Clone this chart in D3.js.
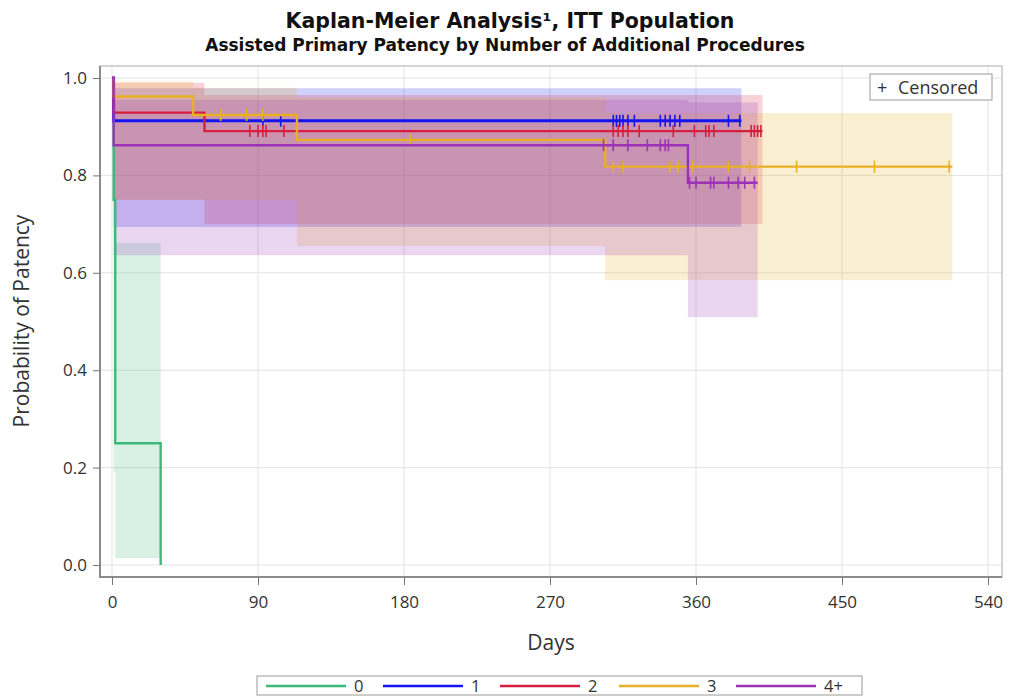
<!DOCTYPE html>
<html>
<head>
<meta charset="utf-8">
<script src="https://cdn.jsdelivr.net/npm/d3@7"></script>
<style>
  body { margin: 0; background: #fff; }
  svg text { font-family: "Open Sans", "Noto Sans", sans-serif; fill: #333; }
  .tick line { stroke: #777; }
</style>
</head>
<body>
<div id="chart"></div>
<script>
var svgWidth = 1009;
var svgHeight = 696;

// frame of the plot area
var frame = { left: 100, right: 1002, top: 66, bottom: 577 };

// data
var groups = ["0", "1", "2", "3", "4+"];
var colors = ["#3dba7a", "#1414f0", "#d61f3c", "#e8b025", "#9c32b8"];

// step times (days) and survival after each step
var stepTimes = [
  [0, 1, 2, 30],
  [0, 1],
  [0, 1, 57],
  [0, 1, 50, 114, 304],
  [0, 1, 355]
];
var survival = [
  [1, 0.75, 0.25, 0],
  [1, 0.912],
  [1, 0.929, 0.891],
  [1, 0.962, 0.924, 0.873, 0.818],
  [1, 0.862, 0.785]
];
var endTimes = [30, 388, 401, 518, 398];

// confidence limits for each step (null = no band)
var lowerCL = [
  [null, 0.19, 0.014, null],
  [null, 0.694],
  [null, 0.75, 0.70],
  [null, 0.75, 0.75, 0.655, 0.585],
  [null, 0.636, 0.509]
];
var upperCL = [
  [null, 0.96, 0.661, null],
  [null, 0.979],
  [null, 0.99, 0.965],
  [null, 0.993, 0.98, 0.96, 0.928],
  [null, 0.955, 0.95]
];

// censored times
var censored = [
  [],
  [93, 104, 309, 311, 313, 315, 318, 322, 338, 341, 344, 347, 350, 380, 387],
  [85, 90, 93, 95, 106, 309, 312, 315, 318, 325, 346, 359, 366, 368, 371, 394, 396, 398, 400],
  [67, 83, 93, 184, 309, 315, 344, 349, 358, 380, 393, 422, 470, 516],
  [303, 309, 318, 330, 338, 341, 343, 356, 360, 369, 371, 380, 386, 390, 396]
];

var xTicks = [0, 90, 180, 270, 360, 450, 540];
var yTicks = [0, 0.2, 0.4, 0.6, 0.8, 1.0];

var svg = d3.select("#chart")
  .append("svg")
  .attr("width", svgWidth)
  .attr("height", svgHeight);

var x = d3.scaleLinear().domain([0, 540]).range([112, 988]);
var y = d3.scaleLinear().domain([0, 1]).range([565, 78]);

// titles
svg.append("text")
  .attr("x", 510).attr("y", 28)
  .attr("text-anchor", "middle")
  .style("font-family", "'DejaVu Sans', sans-serif")
  .style("font-size", "20.5px").style("font-weight", "bold").style("fill", "#111")
  .text("Kaplan-Meier Analysis¹, ITT Population");
svg.append("text")
  .attr("x", 505).attr("y", 51)
  .attr("text-anchor", "middle")
  .style("font-family", "'DejaVu Sans', sans-serif")
  .style("font-size", "17px").style("font-weight", "bold").style("fill", "#111")
  .text("Assisted Primary Patency by Number of Additional Procedures");

// gridlines
svg.append("g").selectAll("line")
  .data(xTicks).enter().append("line")
  .attr("x1", d => x(d)).attr("x2", d => x(d))
  .attr("y1", frame.top).attr("y2", frame.bottom)
  .attr("stroke", "#e3e3e3");
svg.append("g").selectAll("line")
  .data(yTicks).enter().append("line")
  .attr("x1", frame.left).attr("x2", frame.right)
  .attr("y1", d => y(d)).attr("y2", d => y(d))
  .attr("stroke", "#e3e3e3");

// confidence bands
var bands = svg.append("g");
groups.forEach(function(g, i) {
  var t = stepTimes[i];
  t.forEach(function(t0, j) {
    if (lowerCL[i][j] === null) return;
    var t1 = j + 1 < t.length ? t[j + 1] : endTimes[i];
    bands.append("rect")
      .attr("x", x(t0))
      .attr("width", x(t1) - x(t0))
      .attr("y", y(upperCL[i][j]))
      .attr("height", y(lowerCL[i][j]) - y(upperCL[i][j]))
      .attr("fill", colors[i])
      .attr("fill-opacity", 0.2);
  });
});

// survival value at a time
function survAt(i, t) {
  var s = survival[i][0];
  stepTimes[i].forEach(function(t0, j) { if (t >= t0) s = survival[i][j]; });
  return s;
}

var line = d3.line()
  .x(d => x(d[0]))
  .y(d => y(d[1]))
  .curve(d3.curveStepAfter);

groups.forEach(function(g, i) {
  var pts = stepTimes[i].map((t, j) => [t, survival[i][j]]);
  pts.push([endTimes[i], survival[i][survival[i].length - 1]]);
  svg.append("path")
    .datum(pts)
    .attr("d", line)
    .attr("fill", "none")
    .attr("stroke", colors[i])
    .attr("stroke-width", i == 1 ? 3 : 2.4);

  // censor marks
  svg.append("g").selectAll("line")
    .data(censored[i]).enter().append("line")
    .attr("x1", d => x(d)).attr("x2", d => x(d))
    .attr("y1", d => y(survAt(i, d)) - 6)
    .attr("y2", d => y(survAt(i, d)) + 6)
    .attr("stroke", colors[i])
    .attr("stroke-width", 1.6);
});

// frame
svg.append("rect")
  .attr("x", frame.left).attr("y", frame.top)
  .attr("width", frame.right - frame.left)
  .attr("height", frame.bottom - frame.top)
  .attr("fill", "none")
  .attr("stroke", "#aaa");
svg.append("path")
  .attr("d", `M${frame.left},${frame.top}V${frame.bottom}H${frame.right}`)
  .attr("fill", "none")
  .attr("stroke", "#8c8c8c")
  .attr("stroke-width", 2);

// axes
var bottomAxis = d3.axisBottom(x).tickValues(xTicks).tickSize(8).tickPadding(11).tickSizeOuter(0);
var leftAxis = d3.axisLeft(y).tickValues(yTicks).tickSize(7).tickPadding(6).tickFormat(d3.format(".1f")).tickSizeOuter(0);

var xAxis = svg.append("g")
  .attr("transform", `translate(0, ${frame.bottom})`)
  .call(bottomAxis);
var yAxis = svg.append("g")
  .attr("transform", `translate(${frame.left}, 0)`)
  .call(leftAxis);
[xAxis, yAxis].forEach(function(a) {
  a.select(".domain").remove();
  a.selectAll("text").style("font-size", "17px").style("fill", "#333");
});

// axis labels
svg.append("text")
  .attr("x", 551).attr("y", 650)
  .attr("text-anchor", "middle")
  .style("font-size", "21px")
  .text("Days");
svg.append("text")
  .attr("transform", "rotate(-90)")
  .attr("x", -321).attr("y", 29)
  .attr("text-anchor", "middle")
  .style("font-size", "21px")
  .text("Probability of Patency");

// censored legend (inside frame)
var cl = svg.append("g");
cl.append("rect")
  .attr("x", 870).attr("y", 74).attr("width", 122).attr("height", 26)
  .attr("fill", "#fff").attr("stroke", "#999");
cl.append("text").attr("x", 877).attr("y", 94).style("font-size", "18px").text("+");
cl.append("text").attr("x", 898).attr("y", 94).style("font-size", "18px").text("Censored");

// group legend (bottom)
var lg = svg.append("g");
lg.append("rect")
  .attr("x", 257).attr("y", 676).attr("width", 605).attr("height", 19)
  .attr("fill", "#fff").attr("stroke", "#999");
var legX = [266, 383, 500, 619, 736];
groups.forEach(function(g, i) {
  lg.append("line")
    .attr("x1", legX[i]).attr("x2", legX[i] + 80)
    .attr("y1", 686).attr("y2", 686)
    .attr("stroke", colors[i]).attr("stroke-width", 2.4);
  lg.append("text")
    .attr("x", legX[i] + 88).attr("y", 692)
    .style("font-size", "16.5px")
    .text(g);
});
</script>
</body>
</html>
